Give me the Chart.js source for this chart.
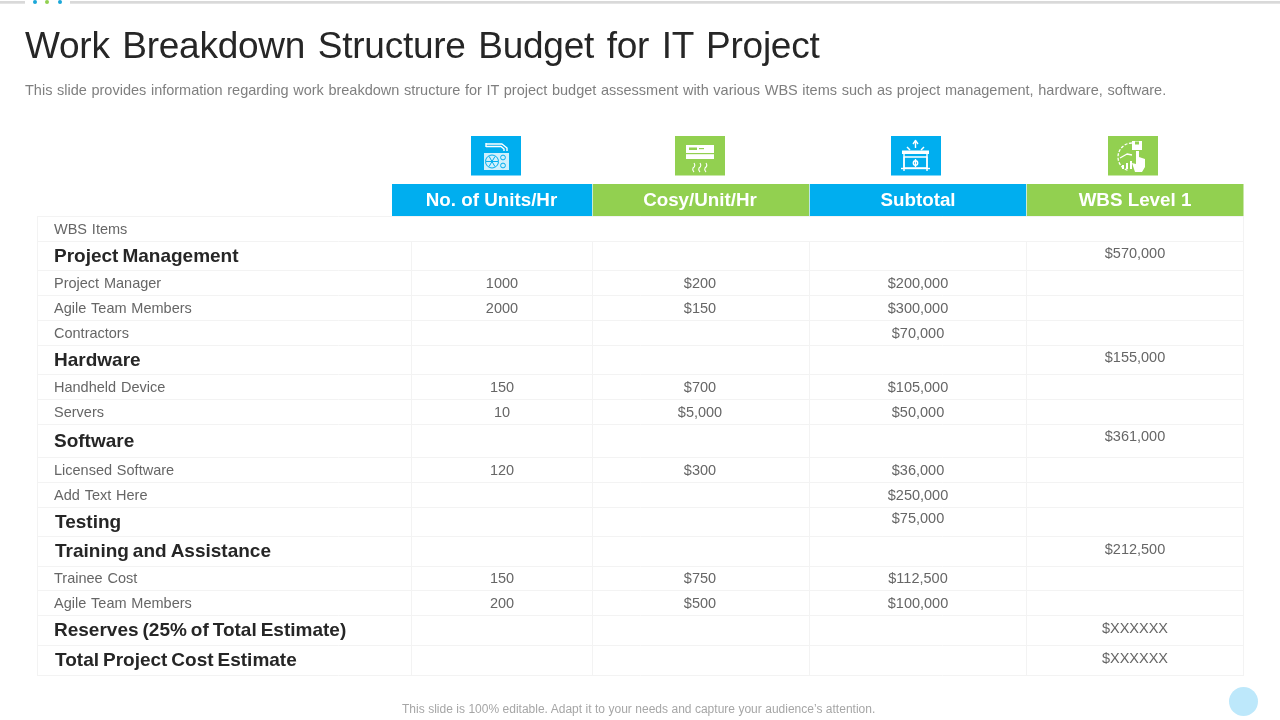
<!DOCTYPE html>
<html><head><meta charset="utf-8">
<script src="https://cdn.jsdelivr.net/npm/chart.js@4/dist/chart.umd.min.js"></script>
<style>
html,body{margin:0;padding:0;background:#fff;width:1280px;height:720px;overflow:hidden}
#c{position:absolute;left:0;top:0}
.t{position:absolute;white-space:nowrap;font-family:"Liberation Sans",Arial,sans-serif}
#title{left:25px;top:24px;font-size:37px;line-height:44px;color:#262626;word-spacing:2.6px;letter-spacing:-0.25px}
#sub{left:25px;top:81px;font-size:14.5px;line-height:18px;color:#7f7f7f;word-spacing:0.6px}
#foot{left:402px;top:702px;font-size:12px;line-height:15px;color:#a6a6a6;word-spacing:0.13px}
</style></head><body>
<canvas id="c" width="1280" height="720"></canvas>
<div class="t" id="title">Work Breakdown Structure Budget for IT Project</div>
<div class="t" id="sub">This slide provides information regarding work breakdown structure for IT project budget assessment with various WBS items such as project management, hardware, software.</div>
<div class="t" id="foot">This slide is 100% editable. Adapt it to your needs and capture your audience’s attention.</div>
<script>
const columnTitles=["No. of Units/Hr","Cosy/Unit/Hr","Subtotal","WBS Level 1"];
const rowLabels=["WBS Items","Project Management","Project Manager","Agile Team Members","Contractors","Hardware","Handheld Device","Servers","Software","Licensed Software","Add Text Here","Testing","Training and Assistance","Trainee Cost","Agile Team Members","Reserves (25% of Total Estimate)","Total Project Cost Estimate"];
const majorRows=[1,5,8,11,12,15,16];
const units=[null,null,"1000","2000",null,null,"150","10",null,"120",null,null,null,"150","200",null,null];
const costs=[null,null,"$200","$150",null,null,"$700","$5,000",null,"$300",null,null,null,"$750","$500",null,null];
const subtotals=[null,null,"$200,000","$300,000","$70,000",null,"$105,000","$50,000",null,"$36,000","$250,000","$75,000",null,"$112,500","$100,000",null,null];
const level1=[null,"$570,000",null,null,null,"$155,000",null,null,"$361,000",null,null,null,"$212,500",null,null,"$XXXXXX","$XXXXXX"];

/* layout (table geometry in scale units) */
const rowEdges=[216,241,270,295,320,345,374,399,424,457,482,507,536,566,590,615,645,675];
const gridX=[37,411,592,809,1026,1243];
const headX=[392,592.5,809.5,1026.5,1243.5];
const iconX=[471,675,891,1108];
const valueX=[502,700,918,1135];
const BLUE="#00AEEF",GREEN="#92D050";
const FONT='"Liberation Sans",Arial,sans-serif';
const rowMid=i=>(rowEdges[i]+rowEdges[i+1])/2;
const isMajor=i=>majorRows.includes(i);
const valueDy=i=>isMajor(i)?(i===8?-3.5:i===11?-3:-1.5):1.3;

function cells(arr,col){
  const out=[];
  arr.forEach((v,i)=>{ if(v!==null) out.push({x:valueX[col],y:rowMid(i)+valueDy(i),label:v}); });
  return out;
}
const labelPts=rowLabels.map((l,i)=>({x:[11,12,16].includes(i)?55:54,y:rowMid(i)+(isMajor(i)?1:1.3),label:l,major:isMajor(i),side:true}));

function icon(ctx,k,x,y){
  ctx.save();ctx.translate(x,y);
  ctx.strokeStyle="#fff";ctx.fillStyle="#fff";ctx.lineWidth=1;ctx.lineJoin="round";
  const L=(p)=>{ctx.beginPath();p.forEach((q,i)=>i?ctx.lineTo(q[0],q[1]):ctx.moveTo(q[0],q[1]));ctx.stroke();};
  const C=(a,b,r,f)=>{ctx.beginPath();ctx.arc(a,b,r,0,7);f?ctx.fill():ctx.stroke();};
  if(k===0){
    ctx.lineWidth=1.4;
    L([[15,7],[15,11]]);L([[15,8],[31,8],[36,12],[36,15]]);L([[15,10.5],[30,10.5],[33,13],[33,15]]);
    ctx.fillStyle="rgba(255,255,255,.82)";ctx.fillRect(13,17,25,17);
    ctx.strokeStyle=BLUE;ctx.lineWidth=1;C(21,25.5,6.5);
    for(let a=0;a<6;a++){L([[21,25.5],[21+6*Math.cos(a*1.05),25.5+6*Math.sin(a*1.05)]]);}
    C(32,21.5,2.4);C(32,29.5,2.4);
  } else if(k===1){
    ctx.fillRect(11,9,28,14);
    ctx.fillStyle=GREEN;ctx.fillRect(14,11.5,8,2.5);ctx.fillRect(24,12,5,1.2);ctx.fillRect(11,17,28,1.2);
    ctx.fillStyle="#fff";
    ctx.lineWidth=1.1;
    [18,24,30].forEach(a=>{ctx.beginPath();ctx.moveTo(a+1,27);ctx.quadraticCurveTo(a+3,30,a,32);ctx.quadraticCurveTo(a-1,34,a+1,36);ctx.stroke();});
  } else if(k===2){
    ctx.lineWidth=1.4;
    L([[24.5,12],[24.5,5]]);L([[22,8],[24.5,4.5],[27,8]]);
    L([[16,11],[19,14]]);L([[33,11],[30,14]]);
    ctx.fillRect(11,14.5,27,3.5);
    L([[13,18],[13,35]]);L([[36,18],[36,35]]);
    ctx.strokeRect(13,21,23,11);
    L([[10,32.5],[39,32.5]]);
    L([[24.5,23],[24.5,31]]);C(24.5,27,2.2);
  } else {
    ctx.lineWidth=1.3;
    ctx.setLineDash([3,1.5]);ctx.beginPath();ctx.arc(24,21,14,1.9,5.0);ctx.stroke();ctx.setLineDash([]);
    ctx.fillRect(24,5,10,9);
    ctx.fillStyle=GREEN;ctx.fillRect(27,5.5,4,3);ctx.fillStyle="#fff";
    L([[12,22],[19,18],[24,19]]);
    [[14,29,2],[18,27,2],[22,25,2]].forEach(r=>ctx.fillRect(r[0],r[1],r[2],33-r[1]));
    ctx.beginPath();ctx.moveTo(28,15);ctx.lineTo(31,15);ctx.lineTo(31,21);ctx.lineTo(37,23);ctx.lineTo(37,31);ctx.lineTo(34,36);ctx.lineTo(27,36);ctx.lineTo(24,27);ctx.lineTo(28,28);ctx.closePath();ctx.fill();
  }
  ctx.restore();
}

const tablePlugin={
  id:'table',
  beforeDatasetsDraw(chart){
    const {ctx,scales:{x,y}}=chart,X=v=>x.getPixelForValue(v),Y=v=>y.getPixelForValue(v);
    ctx.save();
    /* top rule and dots */
    ctx.fillStyle="#d9d9d9";ctx.fillRect(X(0),Y(1),X(25),Y(3.7)-Y(1));ctx.fillRect(X(70),Y(1),X(1280)-X(70),Y(3.7)-Y(1));
    [[35,"#1ba7d8"],[47,GREEN],[60,"#1ba7d8"]].forEach(d=>{ctx.fillStyle=d[1];ctx.beginPath();ctx.arc(X(d[0]),Y(2),2,0,7);ctx.fill();});
    /* corner disc */
    ctx.fillStyle="#bde8fb";ctx.beginPath();ctx.arc(X(1243.5),Y(701.5),14.5,0,7);ctx.fill();
    /* grid */
    ctx.strokeStyle="#f3f3f3";ctx.lineWidth=1;
    rowEdges.forEach(e=>{ctx.beginPath();ctx.moveTo(X(gridX[0]),Y(e)+.5);ctx.lineTo(X(gridX[5])+1,Y(e)+.5);ctx.stroke();});
    gridX.forEach((g,i)=>{const top=(i===0||i===5)?rowEdges[0]:rowEdges[1];ctx.beginPath();ctx.moveTo(X(g)+.5,Y(top));ctx.lineTo(X(g)+.5,Y(rowEdges[17])+1);ctx.stroke();});
    /* header bands */
    columnTitles.forEach((t,i)=>{
      const c=i%2?GREEN:BLUE;
      ctx.fillStyle=c;ctx.fillRect(X(headX[i]),Y(184),X(headX[i+1])-X(headX[i]),Y(216)-Y(184));
      ctx.fillRect(X(iconX[i]),Y(136),X(iconX[i]+50)-X(iconX[i]),Y(175.5)-Y(136));
      icon(ctx,i,X(iconX[i]),Y(136));
    });
    ctx.fillStyle="rgba(255,255,255,.55)";
    [1,2,3].forEach(i=>ctx.fillRect(Math.floor(X(headX[i])),Y(184),1,Y(216)-Y(184)));
    ctx.restore();
  },
  afterDatasetsDraw(chart){
    const {ctx,scales:{x,y}}=chart;
    ctx.save();ctx.textBaseline="middle";
    /* headers */
    ctx.fillStyle="#fff";ctx.textAlign="center";ctx.font="bold 18.8px "+FONT;ctx.wordSpacing="0px";
    columnTitles.forEach((t,i)=>{const cx=i===0?491.5:valueX[i];ctx.fillText(t,x.getPixelForValue(cx),y.getPixelForValue(200.5));});
    chart.data.datasets.forEach((ds,d)=>{
      const meta=chart.getDatasetMeta(d);
      meta.data.forEach((pt,j)=>{
        const r=ds.data[j];
        if(r.major){ctx.font="bold 19px "+FONT;ctx.fillStyle="#262626";ctx.wordSpacing="-1.3px";}
        else{ctx.font="14.5px "+FONT;ctx.fillStyle="#666666";ctx.wordSpacing=r.side?"0.8px":"0px";}
        ctx.textAlign=d===0?"left":"center";
        ctx.fillText(r.label,pt.x,pt.y);
      });
    });
    ctx.restore();
  }
};

new Chart(document.getElementById('c'),{
  type:'scatter',
  data:{datasets:[
    {label:"WBS Items",data:labelPts,pointRadius:0},
    {label:columnTitles[0],data:cells(units,0),pointRadius:0},
    {label:columnTitles[1],data:cells(costs,1),pointRadius:0},
    {label:columnTitles[2],data:cells(subtotals,2),pointRadius:0},
    {label:columnTitles[3],data:cells(level1,3),pointRadius:0}
  ]},
  options:{
    responsive:false,animation:false,devicePixelRatio:1,
    layout:{padding:0},
    plugins:{legend:{display:false},tooltip:{enabled:false},title:{display:false}},
    scales:{
      x:{type:'linear',min:0,max:1280,display:false},
      y:{type:'linear',min:0,max:720,reverse:true,display:false}
    }
  },
  plugins:[tablePlugin]
});
</script>
</body></html>
